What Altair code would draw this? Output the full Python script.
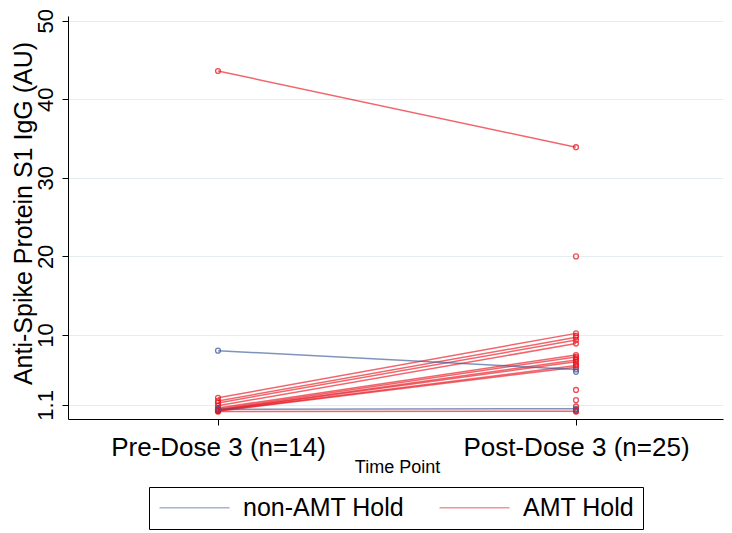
import altair as alt
import pandas as pd

# ---- data ----
subject_ids = list(range(1, 26))
groups = (["AMT Hold"] * 12 + ["non-AMT Hold"] * 2 +
          ["AMT Hold", "AMT Hold", "AMT Hold", "AMT Hold", "AMT Hold", "AMT Hold",
           "non-AMT Hold", "AMT Hold", "AMT Hold", "AMT Hold", "non-AMT Hold"])
pre_values = [43.6, 2.0, 1.6, 1.35, 1.0, 0.7, 0.55, 0.45, 0.4, 0.35, 0.3, 0.25,
              8.0, 0.55,
              None, None, None, None, None, None, None, None, None, None, None]
post_values = [33.9, 10.2, 9.7, 9.35, 8.9, 7.45, 7.2, 6.8, 6.6, 6.1, 5.9, 0.3,
               5.6, 0.6,
               20.0, 3.0, 1.7, 0.9, 6.3, 7.0, 5.3, 9.9, 0.45, 0.25, 0.5]

time_codes = [1, 2]
time_labels = ["Pre-Dose 3 (n=14)", "Post-Dose 3 (n=25)"]
y_ticks = [1.1, 10, 20, 30, 40, 50]
group_order = ["non-AMT Hold", "AMT Hold"]
group_colors = ["#3c5a96", "#e8141e"]

rows = []
for sid, g, pre, post in zip(subject_ids, groups, pre_values, post_values):
    if pre is not None:
        rows.append({"id": sid, "group": g, "t": time_codes[0], "value": pre})
    if post is not None:
        rows.append({"id": sid, "group": g, "t": time_codes[1], "value": post})
df = pd.DataFrame(rows)

FONT = "Liberation Sans"

x_enc = alt.X(
    "t:Q",
    scale=alt.Scale(domain=[0.581, 2.4106], nice=False, zero=False),
    axis=alt.Axis(
        values=time_codes,
        labelExpr="datum.value == 1 ? '%s' : '%s'" % (time_labels[0], time_labels[1]),
        grid=False, tickSize=6, tickColor="black", domainColor="black",
        labelFontSize=26, labelColor="black", labelBaseline="alphabetic",
        labelPadding=30, labelFlush=False, labelOverlap=False, labelLimit=600,
        title="Time Point", titleFontSize=18, titleFontWeight="normal",
        titleColor="black", titleBaseline="alphabetic", titleX=329, titleY=53,
        titleAlign="center",
    ),
)
y_enc = alt.Y(
    "value:Q",
    scale=alt.Scale(domain=[-0.7, 50.6], nice=False, zero=False),
    axis=alt.Axis(
        values=y_ticks,
        labelExpr="'' + datum.value",
        grid=True, gridColor="#e4eef1", gridWidth=1,
        tickSize=6, tickColor="black", domainColor="black",
        labelFontSize=22, labelColor="black", labelAngle=270,
        labelAlign="center", labelBaseline="alphabetic", labelPadding=10,
        title="Anti-Spike Protein S1 IgG (AU)", titleFontSize=25,
        titleFontWeight="normal", titleColor="black", titleAngle=270,
        titleBaseline="alphabetic", titleAlign="center", titleX=-37, titleY=197,
        titleLimit=600,
    ),
)
color_scale = alt.Scale(domain=group_order, range=group_colors)

lines = alt.Chart(df).mark_line(strokeWidth=1.5, opacity=0.65).encode(
    x=x_enc,
    y=y_enc,
    color=alt.Color(
        "group:N", scale=color_scale,
        legend=alt.Legend(
            title=None, orient="none", legendX=81, legendY=471,
            direction="horizontal", symbolType="M-1,0L6,0", symbolSize=400,
            symbolStrokeWidth=1.5, symbolOpacity=0.45, labelFontSize=25,
            labelColor="black", labelOffset=61, labelLimit=400,
            columnPadding=31, padding=8, strokeColor="black",
        ),
    ),
    detail="id:N",
)
points = alt.Chart(df).mark_point(filled=False, size=24, strokeWidth=1.3, opacity=0.75).encode(
    x=x_enc,
    y=y_enc,
    color=alt.Color("group:N", scale=color_scale, legend=None),
)

chart = alt.layer(lines, points).properties(
    width=655, height=403,
    autosize=alt.AutoSizeParams(type="none"),
    padding={"left": 60, "top": 8, "right": 1, "bottom": 112},
    background="white",
).configure(font=FONT).configure_view(strokeWidth=0)

chart.save("out.html", embed_options={"renderer": "svg", "actions": False})
